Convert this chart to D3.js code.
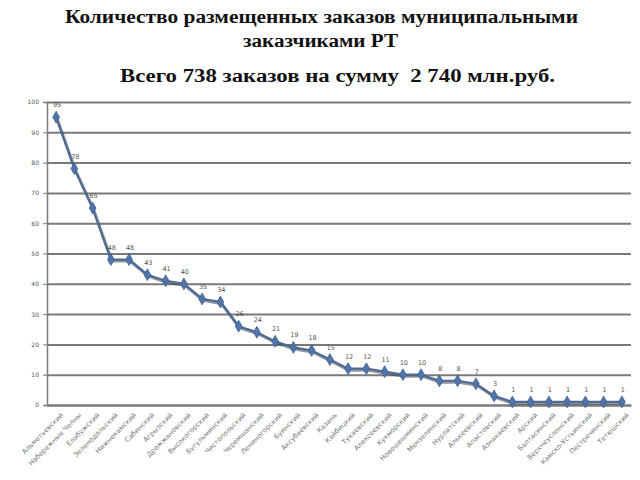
<!DOCTYPE html>
<html><head><meta charset="utf-8">
<script src="https://cdn.jsdelivr.net/npm/d3@7"></script>
<style>body{margin:0;background:#fff}svg{display:block}</style>
</head><body><svg id="c" width="640" height="480"></svg>
<script>
const titleLines = ["Количество размещенных заказов муниципальными", "заказчиками РТ"];
const subtitle = "Всего 738 заказов на сумму  2 740 млн.руб.";
const districts = ["Альметьевский","Набережные Челны","Елабужский","Зеленодольский","Нижнекамский","Сабинский","Агрызский","Дрожжановский","Высокогорский","Бугульминский","Чистопольский","Черемшанский","Лениногорский","Буинский","Аксубаевский","Казань","Кайбицкий","Тукаевский","Алексеевский","Кукморский","Новошешминский","Мензелинский","Нурлатский","Алькеевский","Апастовский","Азнакаевский","Арский","Балтасинский","Верхнеуслонский","Камско-Устьинский","Пестречинский","Тетюшский"];
const orders = [95,78,65,48,48,43,41,40,35,34,26,24,21,19,18,15,12,12,11,10,10,8,8,7,3,1,1,1,1,1,1,1];
const yTicks = [0,10,20,30,40,50,60,70,80,90,100];

const svg = d3.select("#c");
svg.append("rect").attr("width",640).attr("height",480).attr("fill","#fff");

const titles = [
  {t:titleLines[0], x:65, y:23, w:513},
  {t:titleLines[1], x:243, y:47, w:155},
  {t:subtitle, x:120, y:82, w:435}
];
svg.selectAll(".title").data(titles).join("text")
  .attr("x",d=>d.x).attr("y",d=>d.y).attr("textLength",d=>d.w).attr("lengthAdjust","spacingAndGlyphs")
  .attr("font-family","Liberation Serif").attr("font-weight","bold").attr("font-size",18).attr("fill","#111")
  .attr("xml:space","preserve").text(d=>d.t);

const x = d3.scaleBand().domain(districts).range([47,631]);
const y = d3.scaleLinear().domain([0,100]).range([405,102]);

const g = svg.append("g");
const grid = g.append("g").attr("transform","translate(47,0)")
  .call(d3.axisLeft(y).tickValues(yTicks).tickSize(-584).tickFormat(""));
grid.select(".domain").remove();
grid.selectAll(".tick line").attr("stroke","#7a7a7a").attr("stroke-width",2);

const yAxis = d3.axisLeft(y).tickValues(yTicks).tickSize(4).tickPadding(4);
const ya = g.append("g").attr("transform","translate(47,0)").call(yAxis);
ya.select(".domain").attr("stroke","#7a7a7a").attr("stroke-width",1.5);
ya.selectAll(".tick line").attr("stroke","#7a7a7a");
ya.selectAll("text").attr("font-family","DejaVu Sans").attr("font-size",6).attr("fill","#555");

const xAxis = d3.axisBottom(x).tickSize(0).tickPadding(4);
const xa = g.append("g").attr("transform","translate(0,405)").call(xAxis);
xa.select(".domain").attr("stroke","#7a7a7a").attr("stroke-width",2);
xa.selectAll("text").attr("font-family","DejaVu Sans").attr("font-size",6.8).attr("fill","#777")
  .attr("text-anchor","end").attr("dy","0.35em")
  .attr("transform","translate(3,6) rotate(-45)");

const cx = d=>x(d)+x.bandwidth()/2;
const data = districts.map((d,i)=>({d, v:orders[i]}));
const line = d3.line().x(p=>cx(p.d)).y(p=>y(p.v));
g.append("path").datum(data).attr("d",line).attr("fill","none")
  .attr("stroke","#3a3f4a").attr("stroke-width",3).attr("transform","translate(1,1.5)").attr("opacity",0.55);
g.append("path").datum(data).attr("d",line).attr("fill","none")
  .attr("stroke","#4d6b96").attr("stroke-width",2.2);
g.selectAll(".m").data(data).join("path")
  .attr("d",d3.symbol().type(d3.symbolDiamond).size(40))
  .attr("transform",p=>`translate(${cx(p.d)},${y(p.v)})`)
  .attr("fill","#5075aa").attr("stroke","#3f5f8f").attr("stroke-width",0.8);
g.selectAll(".lbl").data(data).join("text")
  .attr("x",p=>cx(p.d)+1).attr("y",p=>y(p.v)-10)
  .attr("text-anchor","middle").attr("font-family","DejaVu Sans").attr("font-size",6.5).attr("fill","#555")
  .text(p=>p.v);
</script></body></html>
